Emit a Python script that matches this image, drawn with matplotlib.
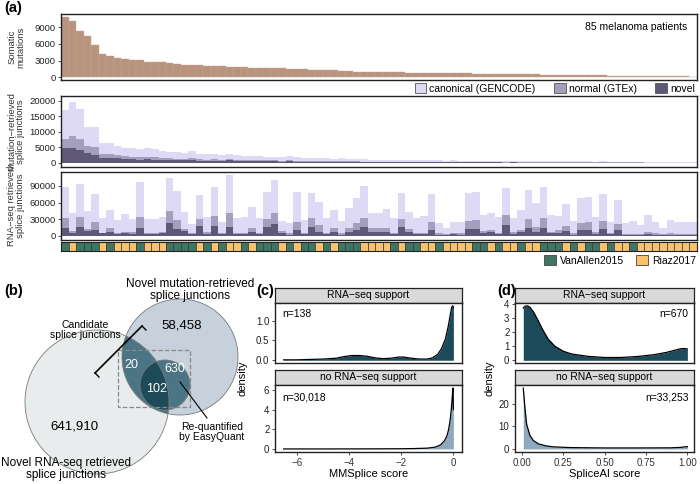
import numpy as np
import matplotlib
matplotlib.use("Agg")
import matplotlib.pyplot as plt
from matplotlib.patches import Circle, Rectangle, Patch

plt.rcParams['font.family'] = ['Liberation Sans', 'DejaVu Sans']

# %% data ---------------------------------------------------------------
# somatic mutations per patient (sorted)
somatic = [10800, 10200, 8300, 7400, 5800, 4100, 3900, 3500, 3200, 3150,
           3050, 2800, 2750, 2700, 2650, 2300, 2200, 2200, 2150, 2100,
           2050, 1950, 1850, 1800, 1780, 1750, 1700, 1650, 1620, 1600,
           1550, 1500, 1430, 1380, 1330, 1290, 1250, 1200, 1100, 1000,
           980, 950, 920, 900, 880, 860, 840, 820, 800, 780,
           760, 740, 720, 700, 680, 660, 640, 620, 600, 580,
           560, 540, 520, 500, 480, 460, 440, 420, 400, 380,
           360, 340, 320, 300, 280, 260, 240, 220, 200, 190,
           180, 170, 160, 150, 130]

# mutation-retrieved junctions: all / novel+normal / novel
mut_all = [17000, 19800, 17500, 11700, 11500, 6300, 6300, 5500, 4900, 4700,
           4500, 4900, 4600, 4000, 3600, 3400, 3200, 3700, 3000, 2800,
           3000, 2600, 2800, 2500, 2300, 2200, 2100, 2000, 2000, 1900,
           2300, 1800, 1700, 1600, 1700, 1500, 1400, 1500, 1300, 1200,
           1150, 1100, 1000, 950, 1000, 900, 950, 850, 800, 900,
           800, 750, 800, 700, 750, 700, 650, 700, 650, 600,
           650, 600, 600, 550, 600, 550, 500, 550, 500, 500,
           480, 450, 480, 430, 450, 400, 430, 400, 380, 380,
           360, 340, 350, 320, 300]
mut_noncanon = [7800, 8600, 7600, 5400, 5000, 3000, 2900, 2500, 2200, 2000,
                1900, 2000, 1900, 1700, 1500, 1400, 1300, 1700, 1200, 1100,
                1200, 1000, 1300, 1000, 950, 900, 850, 800, 800, 750,
                1000, 700, 700, 650, 700, 600, 550, 600, 550, 500,
                450, 450, 400, 380, 400, 350, 380, 340, 320, 360,
                320, 300, 320, 280, 300, 280, 260, 280, 260, 240,
                260, 240, 240, 220, 240, 220, 200, 220, 200, 200,
                190, 180, 190, 170, 180, 160, 170, 160, 150, 150,
                140, 135, 140, 130, 120]
mut_novel = [4700, 4800, 4200, 3300, 2700, 1700, 1700, 1500, 1300, 1200,
             1100, 1200, 1100, 1000, 900, 850, 800, 1100, 750, 700,
             750, 650, 900, 650, 600, 550, 550, 500, 500, 450,
             600, 450, 400, 400, 450, 380, 350, 380, 330, 300,
             280, 270, 250, 240, 250, 220, 240, 210, 200, 220,
             200, 190, 200, 170, 190, 170, 160, 170, 160, 150,
             160, 150, 150, 140, 150, 140, 120, 140, 120, 120,
             120, 110, 120, 100, 110, 100, 100, 100, 90, 90,
             90, 80, 90, 80, 70]

# RNA-seq retrieved junctions: all / novel+normal / novel
rna_all = [88800, 40800, 93000, 45000, 75000, 33000, 46800, 28800, 39600, 30600,
           97800, 30600, 30600, 34800, 105000, 81600, 43800, 21000, 73800, 34800,
           88800, 25800, 109800, 33000, 34200, 52800, 31800, 79800, 100800, 27000,
           24000, 79800, 28800, 78000, 60600, 33000, 46800, 27000, 51000, 67800,
           90600, 40800, 40800, 48600, 31800, 76800, 43800, 33000, 36600, 75600,
           22800, 13800, 25800, 24600, 78000, 79800, 37800, 40800, 34800, 87000,
           31800, 46800, 82800, 58800, 88800, 37800, 36600, 57000, 27000, 67800,
           70800, 34800, 75000, 25800, 64800, 22800, 27000, 19800, 37800, 25800,
           13800, 28800, 25800, 25800, 24600]
rna_noncanon = [31800, 9000, 34800, 12600, 25800, 6000, 13800, 6000, 7800, 6600,
                34800, 6000, 6000, 7800, 45000, 28800, 12600, 4800, 30600, 6600,
                36600, 4800, 41400, 4800, 6000, 15000, 6000, 30600, 40800, 9000,
                4800, 25800, 4800, 33000, 19800, 4800, 15000, 4800, 15000, 24000,
                33000, 13800, 13800, 13800, 4800, 30600, 12600, 4800, 6000, 25800,
                4800, 4200, 4800, 4800, 27000, 28800, 9000, 10800, 6000, 37800,
                6600, 10800, 30600, 16800, 33000, 7800, 10800, 18000, 4800, 22800,
                25800, 6600, 27000, 4800, 21000, 4200, 4200, 4200, 7800, 4800,
                3600, 4800, 4200, 3600, 3600]
rna_novel = [13800, 6000, 16800, 9000, 10800, 4800, 7800, 3600, 5400, 4200,
             15000, 4200, 4200, 4800, 22800, 12600, 9000, 3000, 18600, 4200,
             18000, 3000, 16800, 3000, 3600, 6600, 3600, 16800, 21000, 6000,
             2400, 10200, 3000, 16800, 7800, 3000, 6600, 2400, 7800, 11400,
             15600, 7800, 7800, 6600, 3000, 16800, 7800, 3000, 3600, 10800,
             2400, 1800, 3000, 2400, 12000, 12000, 6000, 6600, 3600, 19800,
             3600, 6600, 13800, 7800, 15000, 4800, 6000, 9000, 2400, 10200,
             10200, 4200, 12600, 3000, 10200, 2400, 2400, 1800, 4200, 2400,
             1800, 2400, 1800, 1800, 1800]

# cohort of each patient: V = VanAllen2015, R = Riaz2017
cohort = list("VRVVVRVRRRVRRRVVVVRVRVRRVRVVVRVRVVRVRVVVRR"
              "RRVRVVRRVRRRRVVRVRRVRRVVVRVRVVRVRRVRRRRRRRR")

# venn counts
venn_mut_only = "58,458"
venn_rna_only = "641,910"
venn_cand = "20"
venn_requant_only = "630"
venn_both = "102"

# density curves
mms_x_rna = [-6.5, -6.0, -5.5, -5.0, -4.5, -4.2, -3.9, -3.6, -3.3, -3.0, -2.7,
             -2.4, -2.1, -1.9, -1.6, -1.3, -1.0, -0.8, -0.6, -0.45, -0.3,
             -0.2, -0.12, -0.06, -0.02, 0.0]
mms_y_rna = [0.01, 0.01, 0.02, 0.03, 0.05, 0.09, 0.12, 0.12, 0.10, 0.06, 0.04,
             0.05, 0.08, 0.08, 0.05, 0.03, 0.03, 0.06, 0.15, 0.30, 0.55,
             0.85, 1.15, 1.35, 1.38, 1.33]
mms_x_no = [-6.5, -5.0, -3.0, -2.0, -1.5, -1.0, -0.7, -0.5, -0.35, -0.25,
            -0.18, -0.12, -0.08, -0.05, -0.03, -0.015, 0.0]
mms_y_no = [0.0, 0.0, 0.01, 0.02, 0.04, 0.08, 0.18, 0.4, 0.8, 1.3,
            2.0, 3.0, 4.0, 5.0, 5.8, 6.2, 4.0]
sai_x_rna = [0.01, 0.02, 0.035, 0.05, 0.07, 0.1, 0.13, 0.16, 0.2, 0.25, 0.3,
             0.4, 0.5, 0.6, 0.7, 0.8, 0.87, 0.92, 0.96, 0.98, 1.0]
sai_y_rna = [3.7, 3.82, 3.85, 3.75, 3.45, 2.8, 2.1, 1.5, 1.0, 0.65, 0.45,
             0.28, 0.2, 0.2, 0.27, 0.4, 0.55, 0.7, 0.82, 0.83, 0.8]
sai_x_no = [0.01, 0.02, 0.03, 0.05, 0.07, 0.1, 0.15, 0.2, 0.3, 0.5, 0.7,
            0.9, 0.96, 0.99, 1.0]
sai_y_no = [27, 18, 11, 6, 3.8, 2.3, 1.3, 0.9, 0.6, 0.45, 0.45,
            0.5, 0.7, 1.0, 1.0]

# %% figure ------------------------------------------------------------
W, H = 700, 484
fig = plt.figure(figsize=(W / 100, H / 100), dpi=100)


def px(l, t, r, b):
    return [l / W, 1 - b / H, (r - l) / W, (b - t) / H]


def style(ax, lw=1.0):
    for s in ax.spines.values():
        s.set_linewidth(lw)
        s.set_color('#222222')
    ax.tick_params(labelsize=6.8, length=2.5, width=0.6, pad=1.5, colors='#333333')
    ax.tick_params(axis='y', labelcolor='#222222')


c_canon, c_normal, c_novel = '#dedaf6', '#a49ebf', '#5f5977'
x = np.arange(len(somatic))
xl = (-0.55, len(somatic) - 0.45)
ylab_kw = dict(fontsize=6.8, color='#333333', linespacing=1.0)

ax1 = fig.add_axes(px(61, 14, 697, 80))
ax1.bar(x, somatic, width=1, color='#b8937e', edgecolor='#c9aa98', linewidth=0.3)
ax1.set_ylim(-500, 11400)
ax1.set_yticks([0, 3000, 6000, 9000])
ax1.set_xlim(*xl)
ax1.set_xticks([])
ax1.set_ylabel("Somatic\nmutations", **ylab_kw)
ax1.text(0.985, 0.8, "85 melanoma patients", transform=ax1.transAxes,
         ha='right', va='center', fontsize=7.5)
style(ax1)

ax2 = fig.add_axes(px(61, 96, 697, 167))
ax2.bar(x, mut_all, width=1, color=c_canon, linewidth=0)
ax2.bar(x, mut_noncanon, width=1, color=c_normal, linewidth=0)
ax2.bar(x, mut_novel, width=1, color=c_novel, linewidth=0)
ax2.set_ylim(-1300, 21600)
ax2.set_yticks([0, 5000, 10000, 15000, 20000])
ax2.set_xlim(*xl)
ax2.set_xticks([])
ax2.set_ylabel("Mutation\u2212retrieved\nsplice junctions", **ylab_kw)
style(ax2)
hs = [Patch(facecolor=c, edgecolor='#555555', linewidth=0.6) for c in (c_canon, c_normal, c_novel)]
ax2.legend(hs, ["canonical (GENCODE)", "normal (GTEx)", "novel"], loc='lower right',
           bbox_to_anchor=(1.0, 1.0), ncol=3, frameon=False, fontsize=7.5,
           handlelength=1.1, handleheight=1.1, handletextpad=0.3,
           columnspacing=1.8, borderaxespad=0.1, borderpad=0.1)

ax3 = fig.add_axes(px(61, 172, 697, 240))
ax3.bar(x, rna_all, width=1, color=c_canon, linewidth=0)
ax3.bar(x, rna_noncanon, width=1, color=c_normal, linewidth=0)
ax3.bar(x, rna_novel, width=1, color=c_novel, linewidth=0)
ax3.set_ylim(-7200, 115000)
ax3.set_yticks([0, 30000, 60000, 90000])
ax3.set_xlim(*xl)
ax3.set_xticks([])
ax3.set_ylabel("RNA\u2212seq retrieved\nsplice junctions", **ylab_kw)
style(ax3)

for ax in (ax1, ax2, ax3):
    ax.yaxis.set_label_coords(-0.056, 0.5)

c_va, c_ri = '#3e7564', '#f6c26e'
axt = fig.add_axes(px(61, 242, 697, 251))
axt.bar(x, [1] * len(x), width=1, color=[c_va if c == 'V' else c_ri for c in cohort],
        edgecolor='#3a3a3a', linewidth=0.5)
axt.set_xlim(*xl)
axt.set_ylim(0, 1)
axt.set_xticks([])
axt.set_yticks([])
style(axt, 0.8)
hs = [Patch(facecolor=c, edgecolor='#444444', linewidth=0.6) for c in (c_va, c_ri)]
axt.legend(hs, ["VanAllen2015", "Riaz2017"], loc='upper right', bbox_to_anchor=(1.0, -0.35),
           ncol=2, frameon=False, fontsize=7.5, handlelength=1.1, handleheight=1.1,
           handletextpad=0.4, columnspacing=1.2, borderaxespad=0, borderpad=0.1)

# %% venn (b) -----------------------------------------------------------
vax = fig.add_axes(px(0, 276, 250, 484))
vax.set_xlim(0, 250)
vax.set_ylim(484, 276)
vax.axis('off')
c_low, r_low = (97, 402), 72
c_up, r_up = (180, 357), 58
c_sm, r_sm = (165, 385), 25
low = Circle(c_low, r_low, fc='#e9ecec', ec='none')
up = Circle(c_up, r_up, fc='#c6d1db', ec='none')
vax.add_patch(low)
vax.add_patch(up)
lens = Circle(c_up, r_up, fc='#4b7584', ec='none')
vax.add_patch(lens)
lens.set_clip_path(low)
small = Circle(c_sm, r_sm, fc='#4b7584', ec='none')
vax.add_patch(small)
small2 = Circle(c_sm, r_sm, fc='#1f4a59', ec='none')
vax.add_patch(small2)
small2.set_clip_path(low)
for cc, r in ((c_low, r_low), (c_up, r_up), (c_sm, r_sm)):
    vax.add_patch(Circle(cc, r, fc='none', ec='#7a7a7a', lw=0.6))
vax.add_patch(Rectangle((118, 350), 72, 57, fill=False, ls='--', ec='#888888', lw=0.9))
vax.plot([95, 142], [373, 326], color='black', lw=1.2)
for (bx, by) in ((95, 373), (142, 326)):
    vax.plot([bx, bx + 4], [by, by + 4], color='black', lw=1.0)
vax.plot([180, 207], [382, 418], color='black', lw=0.8)

vax.text(190, 290, "Novel mutation-retrieved\nsplice junctions", ha='center', va='center',
         fontsize=8.5, linespacing=1.1)
vax.text(66, 469, "Novel RNA-seq retrieved\nsplice junctions", ha='center', va='center',
         fontsize=8.5, linespacing=1.1)
vax.text(85, 330, "Candidate\nsplice junctions", ha='center', va='center', fontsize=7.5,
         linespacing=1.1)
vax.text(212, 432, "Re-quantified\nby EasyQuant", ha='center', va='center', fontsize=7.5,
         linespacing=1.1)
vax.text(182, 326, venn_mut_only, ha='center', va='center', fontsize=9.5)
vax.text(74, 427, venn_rna_only, ha='center', va='center', fontsize=9.5)
vax.text(131, 365, venn_cand, ha='center', va='center', fontsize=9, color='white')
vax.text(175, 369, venn_requant_only, ha='center', va='center', fontsize=9, color='white')
vax.text(157, 389, venn_both, ha='center', va='center', fontsize=9, color='white')

# %% densities (c) (d) --------------------------------------------------
c_dark, c_light = '#1d4b5c', '#8ea9bf'


def strip(box, title):
    s = fig.add_axes(px(*box))
    s.set_facecolor('#d9d9d9')
    s.set_xticks([])
    s.set_yticks([])
    style(s, 0.9)
    s.text(0.5, 0.5, title, transform=s.transAxes, ha='center', va='center', fontsize=7.5)


def dens(box, xs, ys, col, xlim, ylim, yticks, n, right, xticks=None):
    a = fig.add_axes(px(*box))
    a.fill_between(xs, 0, ys, color=col, linewidth=0)
    a.plot(xs, ys, color='black', lw=0.9)
    a.set_xlim(*xlim)
    a.set_ylim(*ylim)
    a.set_yticks(yticks)
    if xticks is None:
        a.set_xticks([])
    else:
        a.set_xticks(xticks)
    style(a)
    a.tick_params(labelsize=7)
    if right:
        a.text(0.97, 0.82, n, transform=a.transAxes, ha='right', va='center', fontsize=7.5)
    else:
        a.text(0.04, 0.82, n, transform=a.transAxes, ha='left', va='center', fontsize=7.5)
    return a


cx = (275, 462)
strip((cx[0], 288, cx[1], 303), "RNA\u2212seq support")
dens((cx[0], 303, cx[1], 363), mms_x_rna, mms_y_rna, c_dark, (-6.83, 0.33), (-0.07, 1.45),
     [0.0, 0.5, 1.0], "n=138", False)
strip((cx[0], 370, cx[1], 385), "no RNA\u2212seq support")
a = dens((cx[0], 385, cx[1], 452), mms_x_no, mms_y_no, c_light, (-6.83, 0.33), (-0.31, 6.5),
         [0, 2, 4, 6], "n=30,018", False, xticks=[-6, -4, -2, 0])
a.set_xticklabels(["\u22126", "\u22124", "\u22122", "0"])
a.set_xlabel("MMSplice score", fontsize=8, labelpad=1)
fig.text(243 / W, 1 - 378 / H, "density", rotation=90, ha='center', va='center', fontsize=8)

dx = (515, 694)
strip((dx[0], 288, dx[1], 303), "RNA\u2212seq support")
dens((dx[0], 303, dx[1], 363), sai_x_rna, sai_y_rna, c_dark, (-0.04, 1.04), (-0.19, 4.05),
     [0, 1, 2, 3, 4], "n=670", True)
strip((dx[0], 370, dx[1], 385), "no RNA\u2212seq support")
a = dens((dx[0], 385, dx[1], 452), sai_x_no, sai_y_no, c_light,
         (-0.04, 1.04), (-1.35, 28.4), [0, 10, 20], "n=33,253", True,
         xticks=[0, 0.25, 0.5, 0.75, 1.0])
a.set_xticklabels(["0.00", "0.25", "0.50", "0.75", "1.00"])
a.set_xlabel("SpliceAI score", fontsize=8, labelpad=1)
fig.text(490 / W, 1 - 378 / H, "density", rotation=90, ha='center', va='center', fontsize=8)

# panel letters
for lab, (lx, ly) in {"(a)": (4, 8), "(b)": (4, 291), "(c)": (256, 291), "(d)": (497, 291)}.items():
    fig.text(lx / W, 1 - ly / H, lab, fontsize=10.5, fontweight='bold', ha='left', va='center')

fig.savefig("out.png", dpi=100)
